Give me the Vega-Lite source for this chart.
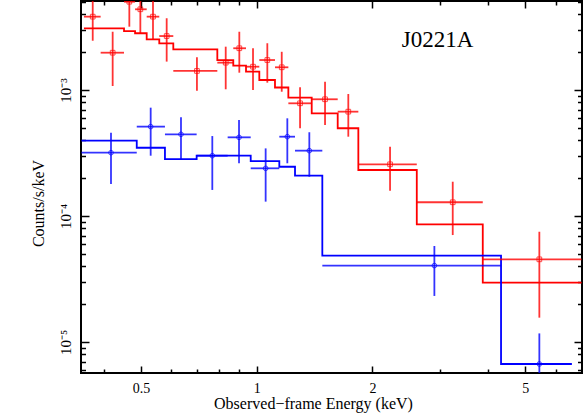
{
  "$schema": "https://vega.github.io/schema/vega-lite/v6.json",
  "width": 501,
  "height": 372,
  "autosize": {"type": "none"},
  "padding": {"left": 81, "top": 1, "right": 2, "bottom": 41},
  "background": "white",
  "config": {
    "view": {"stroke": "black", "strokeWidth": 2},
    "font": "Liberation Serif",
    "axis": {"domain": false, "grid": false, "tickColor": "black", "tickWidth": 1.5, "labelColor": "black", "titleColor": "black", "labelFont": "Liberation Serif", "titleFont": "Liberation Serif", "titleFontWeight": "normal"}
  },
  "data": {
    "values": [
      {"series": "red", "lo": 0.3552, "hi": 0.3926, "e": 0.3744, "y": 0.00382, "ylo": 0.00246, "yhi": 0.0056, "m": 0.003089, "bin": 1},
      {"series": "red", "lo": 0.3926, "hi": 0.4516, "e": 0.4219, "y": 0.001977, "ylo": 0.001076, "yhi": 0.0029, "m": 0.003089, "bin": 2},
      {"series": "red", "lo": 0.4516, "hi": 0.4825, "e": 0.4662, "y": 0.00502, "ylo": 0.00318, "yhi": 0.007, "m": 0.002934, "bin": 3},
      {"series": "red", "lo": 0.4825, "hi": 0.5173, "e": 0.498, "y": 0.00437, "ylo": 0.00282, "yhi": 0.0065, "m": 0.00282, "bin": 4},
      {"series": "red", "lo": 0.5173, "hi": 0.5578, "e": 0.5372, "y": 0.00382, "ylo": 0.00249, "yhi": 0.0056, "m": 0.002526, "bin": 5},
      {"series": "red", "lo": 0.5578, "hi": 0.6067, "e": 0.5831, "y": 0.00268, "ylo": 0.00168, "yhi": 0.00371, "m": 0.002348, "bin": 6},
      {"series": "red", "lo": 0.6067, "hi": 0.7898, "e": 0.699, "y": 0.001416, "ylo": 0.000987, "yhi": 0.001817, "m": 0.002104, "bin": 7},
      {"series": "red", "lo": 0.7898, "hi": 0.869, "e": 0.8305, "y": 0.001648, "ylo": 0.001013, "yhi": 0.002207, "m": 0.001729, "bin": 8},
      {"series": "red", "lo": 0.869, "hi": 0.9379, "e": 0.901, "y": 0.002144, "ylo": 0.001372, "yhi": 0.0029, "m": 0.00156, "bin": 9},
      {"series": "red", "lo": 0.9379, "hi": 1.0157, "e": 0.9781, "y": 0.001531, "ylo": 0.001, "yhi": 0.002144, "m": 0.001397, "bin": 10},
      {"series": "red", "lo": 1.0157, "hi": 1.1157, "e": 1.0656, "y": 0.001729, "ylo": 0.001143, "yhi": 0.00235, "m": 0.0012, "bin": 11},
      {"series": "red", "lo": 1.1157, "hi": 1.2087, "e": 1.1617, "y": 0.001514, "ylo": 0.000969, "yhi": 0.00201, "m": 0.001047, "bin": 12},
      {"series": "red", "lo": 1.2087, "hi": 1.3903, "e": 1.2965, "y": 0.000784, "ylo": 0.000497, "yhi": 0.00105, "m": 0.000869, "bin": 13},
      {"series": "red", "lo": 1.3903, "hi": 1.6245, "e": 1.5058, "y": 0.000844, "ylo": 0.000527, "yhi": 0.001164, "m": 0.000653, "bin": 14},
      {"series": "red", "lo": 1.6245, "hi": 1.8383, "e": 1.731, "y": 0.000673, "ylo": 0.000426, "yhi": 0.000929, "m": 0.000497, "bin": 15},
      {"series": "red", "lo": 1.8383, "hi": 2.609, "e": 2.223, "y": 0.0002572, "ylo": 0.0001589, "yhi": 0.000355, "m": 0.0002317, "bin": 16},
      {"series": "red", "lo": 2.609, "hi": 3.874, "e": 3.236, "y": 0.0001285, "ylo": 0.0000706, "yhi": 0.0001871, "m": 0.0000859, "bin": 17},
      {"series": "red", "lo": 3.874, "hi": 7.0, "e": 5.437, "y": 0.0000453, "ylo": 0.0000156, "yhi": 0.000075, "m": 0.0000296, "bin": 18},
      {"series": "blue", "lo": 0.35, "hi": 0.4874, "e": 0.4177, "y": 0.000318, "ylo": 0.0001795, "yhi": 0.000458, "m": 0.000396, "bin": 1},
      {"series": "blue", "lo": 0.4874, "hi": 0.5771, "e": 0.5298, "y": 0.000512, "ylo": 0.000301, "yhi": 0.000724, "m": 0.000348, "bin": 2},
      {"series": "blue", "lo": 0.5771, "hi": 0.6978, "e": 0.6353, "y": 0.000445, "ylo": 0.000278, "yhi": 0.000607, "m": 0.000283, "bin": 3},
      {"series": "blue", "lo": 0.6978, "hi": 0.8402, "e": 0.7664, "y": 0.000301, "ylo": 0.000161, "yhi": 0.000431, "m": 0.000301, "bin": 4},
      {"series": "blue", "lo": 0.8402, "hi": 0.9647, "e": 0.8994, "y": 0.000421, "ylo": 0.000262, "yhi": 0.000578, "m": 0.000301, "bin": 5},
      {"series": "blue", "lo": 0.9647, "hi": 1.145, "e": 1.055, "y": 0.000239, "ylo": 0.00013, "yhi": 0.000344, "m": 0.000273, "bin": 6},
      {"series": "blue", "lo": 1.145, "hi": 1.2579, "e": 1.2013, "y": 0.000426, "ylo": 0.000262, "yhi": 0.000596, "m": 0.000246, "bin": 7},
      {"series": "blue", "lo": 1.2579, "hi": 1.4815, "e": 1.3705, "y": 0.00033, "ylo": 0.000205, "yhi": 0.000462, "m": 0.000209, "bin": 8},
      {"series": "blue", "lo": 1.4815, "hi": 4.322, "e": 2.899, "y": 0.0000404, "ylo": 0.0000232, "yhi": 0.0000578, "m": 0.0000484, "bin": 9},
      {"series": "blue", "lo": 4.322, "hi": 6.601, "e": 5.437, "y": 0.00000669, "ylo": 0.000004, "yhi": 0.0000117, "m": 0.00000669, "bin": 10}
    ]
  },
  "resolve": {"axis": {"x": "independent", "y": "independent"}},
  "layer": [
    {
      "transform": [{"fold": ["lo", "hi"], "as": ["edge", "ex"]}],
      "mark": {"type": "line", "strokeWidth": 1.8, "clip": true},
      "encoding": {
        "x": {"field": "ex", "type": "quantitative",
          "scale": {"type": "log", "domain": [0.349, 7.02], "nice": false, "zero": false},
          "axis": {"orient": "bottom", "values": [0.5, 1, 2, 5], "format": "~g", "tickSize": -7, "labelPadding": 15, "labelFontSize": 14, "labelFlush": false, "title": "Observed−frame Energy (keV)", "titleFontSize": 16, "titleX": 232, "titleY": 35, "titleBaseline": "alphabetic", "titleAlign": "center"}},
        "y": {"field": "m", "type": "quantitative",
          "scale": {"type": "log", "domain": [0.000005675, 0.005085], "nice": false, "zero": false},
          "axis": {"orient": "left", "values": [0.00001, 0.0001, 0.001], "tickSize": -8, "labelPadding": 16, "labelFontSize": 15, "labelAngle": 270, "labelAlign": "center", "labelBaseline": "bottom", "labelFlush": false,
            "labelExpr": "datum.value > 0.0005 ? '10⁻³' : (datum.value > 0.00005 ? '10⁻⁴' : '10⁻⁵')",
            "title": "Counts/s/keV", "titleFontSize": 16, "titleAngle": 270, "titleX": -43, "titleY": 202, "titleAlign": "center", "titleBaseline": "middle"}},
        "color": {"field": "series", "type": "nominal", "scale": {"domain": ["red", "blue"], "range": ["#ff0000", "#0000ff"]}, "legend": null},
        "detail": {"field": "series"},
        "order": [{"field": "bin", "type": "quantitative"}, {"field": "edge", "type": "nominal", "sort": "descending"}]
      }
    },
    {
      "mark": {"type": "rule", "strokeWidth": 1.8, "opacity": 0.8, "clip": true},
      "encoding": {
        "x": {"field": "lo", "type": "quantitative",
          "scale": {"type": "log", "domain": [0.349, 7.02], "nice": false, "zero": false},
          "axis": {"orient": "bottom", "values": [0.4, 0.6, 0.7, 0.8, 0.9, 3, 4, 6], "tickSize": -4, "labels": false, "title": null}},
        "x2": {"field": "hi"},
        "y": {"field": "y", "type": "quantitative",
          "scale": {"type": "log", "domain": [0.000005675, 0.005085], "nice": false, "zero": false},
          "axis": {"orient": "left", "values": [0.000006, 0.000007, 0.000008, 0.000009, 0.00002, 0.00003, 0.00004, 0.00005, 0.00006, 0.00007, 0.00008, 0.00009, 0.0002, 0.0003, 0.0004, 0.0005, 0.0006, 0.0007, 0.0008, 0.0009, 0.002, 0.003, 0.004, 0.005], "tickSize": -4.5, "labels": false, "title": null}},
        "color": {"field": "series", "type": "nominal", "scale": {"domain": ["red", "blue"], "range": ["#ff0000", "#0000ff"]}, "legend": null}
      }
    },
    {
      "mark": {"type": "rule", "strokeWidth": 1.8, "opacity": 0.8, "clip": true},
      "encoding": {
        "x": {"field": "e", "type": "quantitative",
          "scale": {"type": "log", "domain": [0.349, 7.02], "nice": false, "zero": false},
          "axis": {"orient": "top", "values": [0.5, 1, 2, 5], "tickSize": -7, "labels": false, "title": null}},
        "y": {"field": "ylo", "type": "quantitative",
          "scale": {"type": "log", "domain": [0.000005675, 0.005085], "nice": false, "zero": false},
          "axis": {"orient": "right", "values": [0.00001, 0.0001, 0.001], "tickSize": -8, "labels": false, "title": null}},
        "y2": {"field": "yhi"},
        "color": {"field": "series", "type": "nominal", "scale": {"domain": ["red", "blue"], "range": ["#ff0000", "#0000ff"]}, "legend": null}
      }
    },
    {
      "mark": {"type": "point", "filled": false, "strokeWidth": 1, "size": 22, "opacity": 0.7, "clip": true},
      "encoding": {
        "x": {"field": "e", "type": "quantitative",
          "scale": {"type": "log", "domain": [0.349, 7.02], "nice": false, "zero": false},
          "axis": {"orient": "top", "values": [0.4, 0.6, 0.7, 0.8, 0.9, 3, 4, 6], "tickSize": -4, "labels": false, "title": null}},
        "y": {"field": "y", "type": "quantitative",
          "scale": {"type": "log", "domain": [0.000005675, 0.005085], "nice": false, "zero": false},
          "axis": {"orient": "right", "values": [0.000006, 0.000007, 0.000008, 0.000009, 0.00002, 0.00003, 0.00004, 0.00005, 0.00006, 0.00007, 0.00008, 0.00009, 0.0002, 0.0003, 0.0004, 0.0005, 0.0006, 0.0007, 0.0008, 0.0009, 0.002, 0.003, 0.004, 0.005], "tickSize": -4.5, "labels": false, "title": null}},
        "color": {"field": "series", "type": "nominal", "scale": {"domain": ["red", "blue"], "range": ["#ff0000", "#0000ff"]}, "legend": null},
        "shape": {"field": "series", "type": "nominal", "scale": {"domain": ["red", "blue"], "range": ["square", "circle"]}, "legend": null}
      }
    },
    {
      "data": {"values": [{"label": "J0221A", "lx": 2.954, "ly": 0.00221}]},
      "mark": {"type": "text", "font": "Liberation Serif", "fontSize": 23, "align": "center", "baseline": "alphabetic", "color": "black"},
      "encoding": {
        "x": {"field": "lx", "type": "quantitative", "scale": {"type": "log", "domain": [0.349, 7.02], "nice": false, "zero": false}, "axis": null},
        "y": {"field": "ly", "type": "quantitative", "scale": {"type": "log", "domain": [0.000005675, 0.005085], "nice": false, "zero": false}, "axis": null},
        "text": {"field": "label"}
      }
    }
  ]
}
